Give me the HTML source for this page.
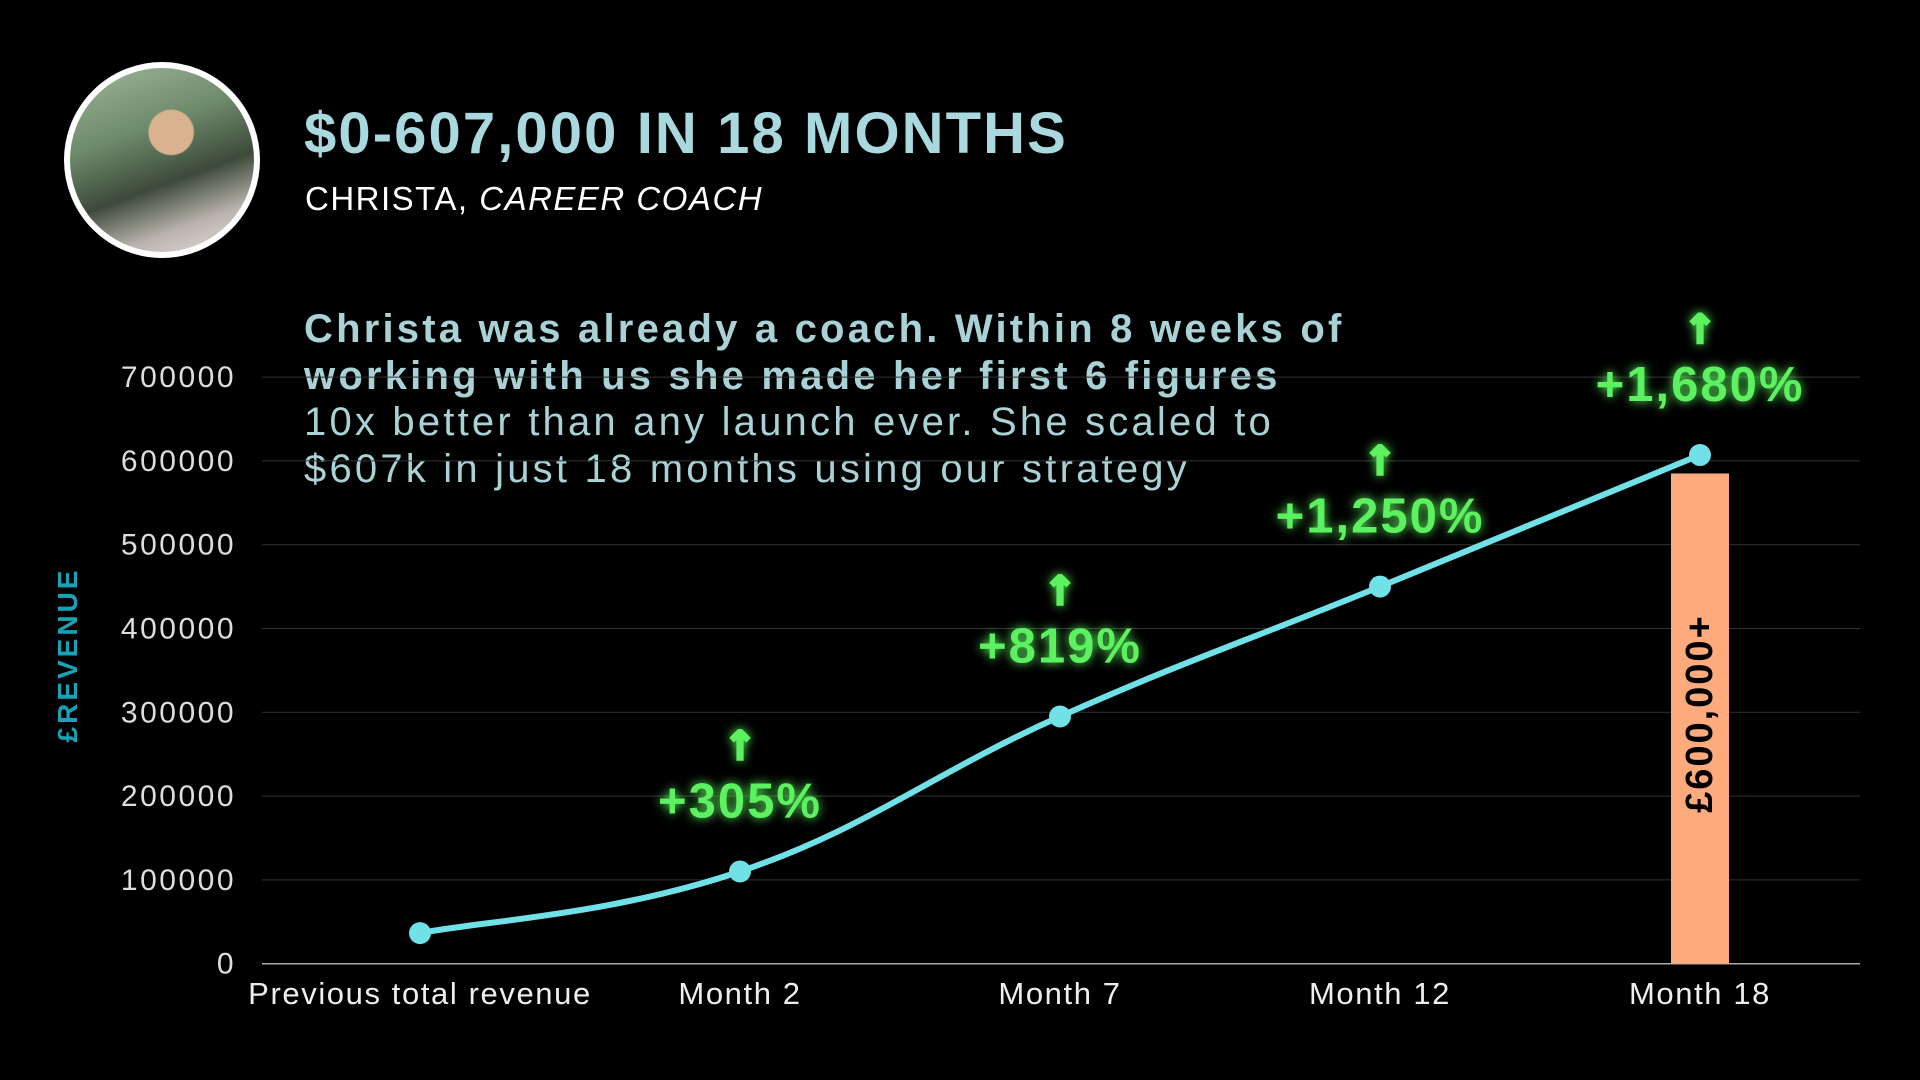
<!DOCTYPE html>
<html><head><meta charset="utf-8">
<style>
html,body{margin:0;padding:0;background:#000;}
body{width:1920px;height:1080px;position:relative;overflow:hidden;font-family:"Liberation Sans",sans-serif;}
.t{position:absolute;white-space:nowrap;}
</style></head>
<body>
<div style="position:absolute;left:64px;top:62px;width:184px;height:184px;border-radius:50%;border:6px solid #fff;overflow:hidden;background:radial-gradient(circle at 55% 35%,#d9b28f 0 14%,transparent 15%),linear-gradient(160deg,#9fb89a 0%,#6d8a6a 35%,#3d4a3a 60%,#b9b3ad 80%,#e8e4df 100%);"></div>
<div class="t" style="left:304px;top:100px;font-size:58px;font-weight:bold;color:#a9d9de;letter-spacing:2.1px;">$0-607,000 IN 18 MONTHS</div>
<div class="t" style="left:305px;top:180px;font-size:33px;color:#fff;letter-spacing:1.5px;">CHRISTA, <i>CAREER COACH</i></div>
<div class="t" style="left:304px;top:306px;font-size:40px;line-height:46.5px;color:#a9d2d6;letter-spacing:3.2px;">
<b>Christa was already a coach. Within 8 weeks of<br>working with us she made her first 6 figures</b><br>10x better than any launch ever. She scaled to<br>$607k in just 18 months using our strategy</div>
<svg id="chart" width="1920" height="1080" style="position:absolute;left:0;top:0;pointer-events:none;"></svg>
<script>
const categories=["Previous total revenue","Month 2","Month 7","Month 12","Month 18"];
const revenue=[36500,110000,295000,450000,607000];
const growthLabels=["","+305%","+819%","+1,250%","+1,680%"];
const barValue=[0,0,0,0,585000];
const barLabel="£600,000+";
const yTicks=[0,100000,200000,300000,400000,500000,600000,700000];
const NS="http://www.w3.org/2000/svg";
const svg=document.getElementById('chart');
const x0=262,x1=1860,y0=963.7,pxPer=83.8/100000;
const xs=i=>420+i*320;
const ys=v=>y0-v*pxPer;
function mk(t,a,p){const e=document.createElementNS(NS,t);for(const k in a)e.setAttribute(k,a[k]);(p||svg).appendChild(e);return e;}
const defs=mk('defs',{});
const f=mk('filter',{id:'glow',x:'-30%',y:'-50%',width:'160%',height:'200%'},defs);
mk('feGaussianBlur',{stdDeviation:'5',result:'b'},f);
const m=mk('feMerge',{},f);mk('feMergeNode',{in:'b'},m);mk('feMergeNode',{in:'SourceGraphic'},m);
yTicks.forEach(v=>{
  const g=mk('line',{x1:x0,x2:x1,y1:ys(v),y2:ys(v),stroke:v===0?'#aaa':'#333','stroke-width':v===0?1.5:1});
  
  
  const t=mk('text',{x:236,y:ys(v)+10,'text-anchor':'end','font-size':'30',fill:'#ddd','letter-spacing':'2.5','font-family':'Liberation Sans'});
  t.textContent=String(v);
  
  
});
const yt=mk('text',{x:0,y:0,transform:'translate(77,655) rotate(-90)','text-anchor':'middle','font-size':'28','font-weight':'bold',fill:'#17a3b5','letter-spacing':'3','font-family':'Liberation Sans'});
yt.textContent='£REVENUE';


categories.forEach((c,i)=>{
  const t=mk('text',{x:xs(i),y:1004,'text-anchor':'middle','font-size':'31',fill:'#eee','letter-spacing':'1.6','font-family':'Liberation Sans'});
  t.textContent=c;
  
  
});
barValue.forEach((v,i)=>{
  if(!v)return;
  const r=mk('rect',{x:xs(i)-29,y:ys(v),width:58,height:y0-ys(v),fill:'#fdaa7c'});
  
  
  const cy=(ys(v)+y0)/2-5;
  const t=mk('text',{x:0,y:0,transform:`translate(${xs(i)},${cy}) rotate(-90)`,'text-anchor':'middle','dominant-baseline':'central','font-size':'38','font-weight':'bold',fill:'#000','letter-spacing':'2','font-family':'Liberation Sans'});
  t.textContent=barLabel;
  
  
});
const pts=revenue.map((v,i)=>[xs(i),ys(v)]);
let d=`M${pts[0][0]},${pts[0][1]}`;
for(let i=0;i<pts.length-1;i++){
  const p0=pts[Math.max(0,i-1)],p1=pts[i],p2=pts[i+1],p3=pts[Math.min(pts.length-1,i+2)];
  const k=0.2;
  d+=` C${p1[0]+(p2[0]-p0[0])*k},${p1[1]+(p2[1]-p0[1])*k} ${p2[0]-(p3[0]-p1[0])*k},${p2[1]-(p3[1]-p1[1])*k} ${p2[0]},${p2[1]}`;
}
const ln=mk('path',{d:d,fill:'none',stroke:'#6fe1e7','stroke-width':6,'stroke-linecap':'round'});


pts.forEach(p=>{
  const c=mk('circle',{cx:p[0],cy:p[1],r:11,fill:'#6fe1e7'});
  
  
});
growthLabels.forEach((g,i)=>{
  if(!g)return;
  const py=pts[i][1];
  const t=mk('text',{x:xs(i),y:py-54,'text-anchor':'middle','font-size':'49','font-weight':'bold',fill:'#5cf25e',filter:'url(#glow)','letter-spacing':'2','font-family':'Liberation Sans'});
  t.textContent=g;
  
  
  const a=mk('text',{x:xs(i),y:py-112,'text-anchor':'middle','font-size':'40','font-weight':'bold',fill:'#5cf25e',stroke:'#5cf25e','stroke-width':'2.5',filter:'url(#glow)','font-family':'DejaVu Sans'});
  a.textContent='↑';
  
  
});
</script>
</body></html>
